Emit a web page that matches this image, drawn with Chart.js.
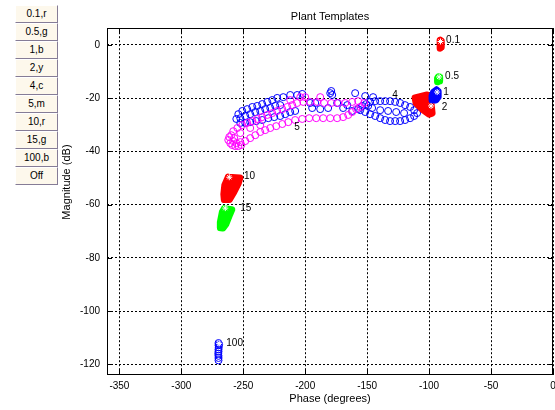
<!DOCTYPE html>
<html>
<head>
<meta charset="utf-8">
<script src="https://cdn.jsdelivr.net/npm/chart.js@4/dist/chart.umd.min.js"></script>
<style>
  html, body { margin:0; padding:0; background:#fff; }
  #wrap { position:relative; width:555px; height:410px; overflow:hidden; }
  #c { position:absolute; left:0; top:0; }
  .btn { position:absolute; left:15px; width:41px; height:16px; background:#fdf8ec;
         border-top:1px solid #ffffff; border-left:1px solid #ffffff;
         border-bottom:1px solid #857c96; border-right:1px solid #857c96;
         font:10px "Liberation Sans", Arial, sans-serif; color:#000;
         text-align:center; line-height:16px; box-sizing:content-box; }
</style>
</head>
<body>
<div id="wrap">
  <canvas id="c" width="558" height="410"></canvas>
</div>
<script>
// ---------- data ----------
const buttonLabels = ["0.1,r", "0.5,g", "1,b", "2,y", "4,c", "5,m", "10,r", "15,g", "100,b", "Off"];
const xTicks = [-350, -300, -250, -200, -150, -100, -50, 0];
const yTicks = [-120, -100, -80, -60, -40, -20, 0];

// dense templates: outline of the (phase, magnitude) region
const tpl0_1 = [[-91,1.8],[-90.2,1.5],[-90.2,-0.8],[-91,-1.2],[-91.2,0]];
const tpl0_5 = [[-92.5,-12],[-91.5,-12],[-91.5,-13.5],[-93,-13.8],[-93.2,-12.5]];
const tpl1   = [[-94,-16.9],[-92.7,-17.5],[-92.7,-19.5],[-94.5,-20.7],[-97,-20.7],[-97.6,-19.2],[-96.5,-17.8]];
const tpl2   = [[-111.3,-19.9],[-101.6,-18.8],[-98.4,-22.2],[-97.6,-25.6],[-100,-26],[-105.6,-24.1],[-110.5,-21.8]];
const tpl10  = [[-262.1,-49.7],[-252.8,-50],[-254,-51.9],[-257.7,-55.3],[-261.3,-58.1],[-265.3,-58.1],[-265.7,-56.1],[-264.9,-52.7]];
const tpl15  = [[-265.3,-61.5],[-259.3,-61.9],[-260.9,-63.6],[-264.1,-67.3],[-266.5,-68.8],[-268.1,-68.7],[-268.5,-66.6],[-266.9,-62.8]];

// sparse templates: individual points
const tpl100 = [[-270,-112],[-270,-112.8],[-269.8,-113.6],[-270,-114.4],[-270,-115.2],[-270.2,-116],[-270,-116.8],[-270,-117.6],[-270,-118.5],[-269.5,-112.5]];
const tpl4 = [
  [-255.6,-27.8],[-254.0,-26.0],[-250.8,-24.8],[-246.8,-24.1],[-242.7,-23.3],[-238.7,-22.9],[-234.7,-22.2],[-230.6,-21.4],
  [-226.6,-20.7],[-222.6,-19.9],[-217.7,-19.6],[-212.1,-18.8],[-206.5,-18.8],[-202.4,-18.4],
  [-252.4,-27.5],[-248.4,-26.7],[-244.4,-26.0],[-240.3,-25.2],[-236.3,-24.8],[-232.3,-24.1],[-228.2,-23.7],[-224.2,-22.9],[-220.2,-22.6],
  [-252.4,-29.3],[-248.4,-29.3],[-244.4,-29.0],[-239.5,-28.6],[-234.7,-28.2],[-229.8,-27.5],[-225.0,-27.1],[-220.2,-26.7],
  [-216.1,-26.0],[-212.1,-25.2],[-208.1,-24.8],
  [-196.0,-21.8],[-191.9,-21.8],[-194.4,-23.7],[-187.9,-24.1],[-181.5,-23.7],[-179.8,-18.1],[-179.0,-17.3],[-178.2,-18.8],
  [-174.2,-21.8],[-169.4,-23.7],[-166.1,-22.6],[-159.7,-18.1],[-151.6,-19.2],[-145.2,-19.6],[-162.1,-24.8],[-157.3,-24.1],
  [-154.0,-22.9],[-150.8,-22.2],[-147.6,-21.4],[-143.5,-21.1],[-139.5,-21.1],[-135.5,-21.1],[-131.5,-21.1],[-127.4,-21.4],
  [-123.4,-21.8],[-119.4,-22.6],[-115.3,-23.3],[-112.1,-24.5],[-109.7,-25.6],
  [-112.1,-26.7],[-115.3,-27.5],[-119.4,-28.2],[-123.4,-28.6],[-127.4,-28.6],[-131.5,-28.6],[-135.5,-28.2],[-139.5,-27.5],
  [-143.5,-26.7],[-147.6,-26.0],[-151.6,-25.2],[-155.6,-24.5],
  [-146.0,-23.7],[-139.5,-24.5],[-133.1,-24.8],[-126.6,-25.2],[-120.2,-25.6],[-149.2,-22.9]
];
const tpl5 = [
  [-262.1,-35.7],[-260.5,-36.9],[-258.9,-37.6],[-256.5,-38.0],[-254.0,-38.0],[-251.6,-37.6],[-261.3,-34.6],[-258.1,-36.1],
  [-255.6,-36.9],[-252.4,-36.5],[-259.7,-33.9],[-257.3,-35.0],
  [-258.1,-32.4],[-254.8,-31.2],[-250.8,-30.1],[-246.8,-29.3],[-242.7,-28.6],[-238.7,-27.8],[-234.7,-27.1],[-230.6,-26.3],
  [-226.6,-25.6],[-222.6,-24.8],[-218.5,-24.1],[-214.5,-23.3],[-210.5,-22.6],[-206.5,-21.8],[-201.6,-21.4],[-196.0,-21.4],
  [-190.3,-21.4],[-184.7,-21.8],[-179.0,-21.8],[-173.4,-21.8],[-167.7,-21.8],[-162.1,-21.4],[-157.3,-21.1],[-152.4,-21.8],
  [-248.4,-36.1],[-244.4,-35.0],[-240.3,-33.9],[-236.3,-32.7],[-232.3,-32.0],[-228.2,-31.2],[-223.4,-30.5],[-218.5,-29.7],
  [-213.7,-29.0],[-208.1,-28.2],[-202.4,-27.8],[-196.8,-27.5],[-191.1,-27.5],[-185.5,-27.5],[-179.8,-27.5],[-174.2,-27.5],
  [-169.4,-27.1],[-165.3,-26.3],[-162.1,-25.2],[-158.9,-24.1],[-155.6,-23.3],
  [-204.0,-19.6],[-200.0,-19.6],[-212.1,-20.7],[-187.9,-19.6],[-244.4,-31.2],[-236.3,-30.1],[-252.4,-33.1]
];

// nominal plant points (white stars)
const nominal = [[-90.8,1.3],[-91.9,-12],[-93.5,-17.7],[-98.4,-22.9],[-261.3,-49.7],[-264.5,-61.3],[-269.4,-112.1]];

// frequency labels
const labelText  = ["0.1", "0.5", "1", "2", "4", "5", "10", "15", "100"];
const labelPhase = [-86.3, -87.1, -88.5, -89.8, -129.8, -208.9, -249.5, -252.4, -263.7];
const labelMag   = [1.9, -11.9, -17.6, -23.4, -18.8, -30.9, -49.3, -61.3, -111.9];

// axis titles
const xTitle = 'Phase (degrees)';
const yTitle = 'Magnitude (dB)';

// ---------- buttons ----------
const wrap = document.getElementById('wrap');
buttonLabels.forEach((t, i) => {
  const d = document.createElement('div');
  d.className = 'btn';
  d.style.top = (5 + 18 * i) + 'px';
  d.textContent = t;
  wrap.appendChild(d);
});

// ---------- chart ----------
const FONT = '"Liberation Sans", Arial, sans-serif';
const toXY = arr => arr.map(([x, y]) => ({x, y}));
const closed = arr => toXY(arr.concat([arr[0]]));

function blob(arr, color, order) {
  return { data: closed(arr), showLine: true, fill: 'shape', backgroundColor: color, borderColor: color,
           borderWidth: 7, borderJoinStyle: 'round', borderCapStyle: 'round', pointRadius: 0, tension: 0, order };
}
function circles(arr, color, order) {
  return { data: toXY(arr), showLine: false, pointStyle: 'circle', pointRadius: 3.5, pointBorderWidth: 1,
           borderColor: color, backgroundColor: 'rgba(0,0,0,0)', pointBackgroundColor: 'rgba(0,0,0,0)',
           pointBorderColor: color, order };
}

const frame = {
  id: 'frame',
  afterDraw(chart) {
    const {ctx, chartArea: a, scales: {x, y}} = chart;
    ctx.save();
    ctx.strokeStyle = '#000';
    ctx.lineWidth = 1;
    ctx.setLineDash([]);
    ctx.beginPath();
    xTicks.forEach(v => {
      const px = Math.round(x.getPixelForValue(v)) + 0.5;
      ctx.moveTo(px, a.bottom); ctx.lineTo(px, a.bottom - 5);
      ctx.moveTo(px, a.top); ctx.lineTo(px, a.top + 5);
    });
    yTicks.forEach(v => {
      const py = Math.round(y.getPixelForValue(v)) + 0.5;
      ctx.moveTo(a.left, py); ctx.lineTo(a.left + 5, py);
      ctx.moveTo(a.right, py); ctx.lineTo(a.right - 5, py);
    });
    ctx.stroke();
    ctx.strokeRect(Math.round(a.left) + 0.5, Math.round(a.top) + 0.5,
                   Math.round(a.right - a.left) - 1, Math.round(a.bottom - a.top) - 1);
    // y axis title
    ctx.font = '11px ' + FONT;
    ctx.fillStyle = '#000';
    ctx.textAlign = 'center';
    ctx.textBaseline = 'middle';
    ctx.translate(67, y.getPixelForValue(-51.5));
    ctx.rotate(-Math.PI / 2);
    ctx.fillText(yTitle, 0, 0);
    ctx.restore();
  },
  afterDatasetsDraw(chart) {
    const {ctx, scales: {x, y}} = chart;
    ctx.save();
    ctx.font = '10px ' + FONT;
    ctx.fillStyle = '#000';
    ctx.textAlign = 'left';
    ctx.textBaseline = 'middle';
    labelText.forEach((t, i) => {
      ctx.fillText(t, x.getPixelForValue(labelPhase[i]), y.getPixelForValue(labelMag[i]));
    });
    ctx.restore();
  }
};

new Chart(document.getElementById('c'), {
  type: 'scatter',
  data: {
    datasets: [
      { data: toXY(nominal), showLine: false, pointStyle: 'star', pointRadius: 3, pointBorderWidth: 1,
        pointBorderColor: '#fff', borderColor: '#fff', pointBackgroundColor: '#fff', order: 0 },
      blob(tpl0_1, '#ff0000', 1),
      blob(tpl0_5, '#00ff00', 2),
      blob(tpl1, '#0000ff', 3),
      blob(tpl2, '#ff0000', 4),
      circles(tpl5, '#ff00ff', 5),
      circles(tpl4, '#0000ff', 6),
      blob(tpl10, '#ff0000', 7),
      blob(tpl15, '#00ff00', 8),
      circles(tpl100, '#0000ff', 9)
    ]
  },
  options: {
    responsive: false,
    animation: false,
    devicePixelRatio: 1,
    events: [],
    layout: { padding: { left: 0, right: 0, top: 0, bottom: 0 } },
    plugins: {
      legend: { display: false },
      tooltip: { enabled: false },
      title: { display: true, text: 'Plant Templates', fullSize: false, color: '#000',
               font: { family: FONT, size: 11, weight: 'normal' }, padding: { top: 10, bottom: 5 } }
    },
    scales: {
      x: {
        type: 'linear', min: -360, max: 0,
        afterBuildTicks: s => { s.ticks = xTicks.map(v => ({value: v})); },
        afterFit: s => { s.height = 35; s.paddingLeft = 0; s.paddingRight = 0; },
        ticks: { color: '#000', font: { family: FONT, size: 10 }, padding: 5, maxRotation: 0, autoSkip: false,
                 callback: v => String(v) },
        grid: { color: '#000', lineWidth: 1, drawTicks: false },
        border: { display: false, dash: [2, 2] },
        title: { display: true, text: xTitle, color: '#000', font: { family: FONT, size: 11 },
                 padding: { top: 0, bottom: 4 } }
      },
      y: {
        type: 'linear', min: -124, max: 6.3,
        afterBuildTicks: s => { s.ticks = yTicks.map(v => ({value: v})); },
        afterFit: s => { s.width = 107; s.paddingTop = 0; s.paddingBottom = 0; },
        ticks: { color: '#000', font: { family: FONT, size: 10 }, padding: 7, autoSkip: false,
                 callback: v => String(v) },
        grid: { color: '#000', lineWidth: 1, drawTicks: false },
        border: { display: false, dash: [2, 2] },
        title: { display: false }
      }
    }
  },
  plugins: [frame]
});
</script>
</body>
</html>
